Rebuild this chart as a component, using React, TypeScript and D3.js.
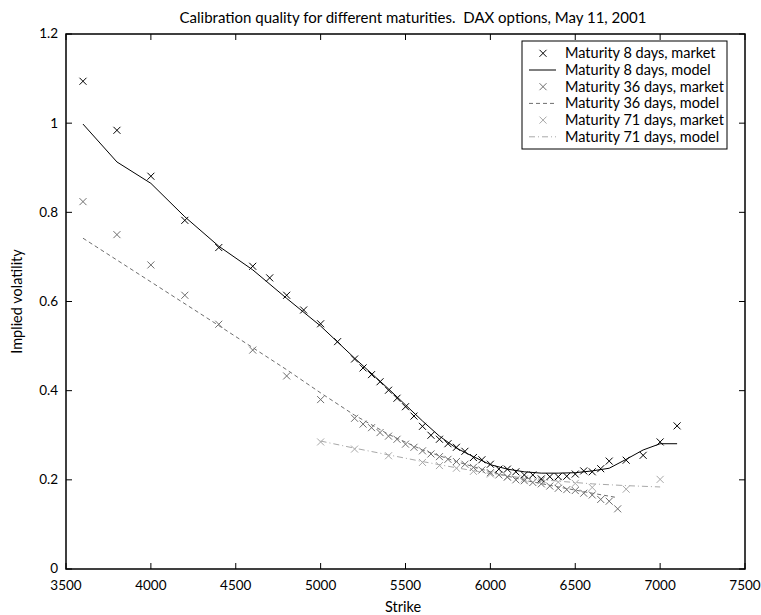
import React from "react";
import * as d3 from "d3";

const xTicks = [3500, 4000, 4500, 5000, 5500, 6000, 6500, 7000, 7500];
const yTicks = [0, 0.2, 0.4, 0.6, 0.8, 1, 1.2];

const m8Strikes = [3600,3800,4000,4200,4400,4600,4700,4800,4900,5000,5100,5200,5250,5300,5350,5400,5450,5500,5550,5600,5650,5700,5750,5800,5850,5900,5950,6000,6050,6100,6150,6200,6250,6300,6350,6400,6450,6500,6550,6600,6650,6700,6800,6900,7000,7100];
const m8Market = [1.094,0.984,0.881,0.782,0.721,0.679,0.653,0.614,0.581,0.550,0.510,0.471,0.451,0.436,0.420,0.401,0.383,0.364,0.343,0.320,0.300,0.291,0.281,0.273,0.264,0.250,0.245,0.235,0.224,0.224,0.218,0.211,0.211,0.202,0.207,0.207,0.208,0.213,0.220,0.218,0.225,0.242,0.244,0.255,0.285,0.321];

const m8ModelStrikes = [3600,3800,4000,4200,4400,4600,4800,5000,5200,5400,5500,5600,5700,5800,5900,6000,6100,6200,6300,6400,6500,6600,6700,6800,6900,7000,7100];
const m8Model = [0.998,0.913,0.865,0.790,0.724,0.671,0.607,0.545,0.473,0.404,0.368,0.332,0.298,0.271,0.252,0.234,0.224,0.218,0.215,0.215,0.216,0.220,0.226,0.246,0.267,0.281,0.281];

const m36Strikes = [3600,3800,4000,4200,4400,4600,4800,5000,5200,5250,5300,5350,5400,5450,5500,5550,5600,5650,5700,5750,5800,5850,5900,5950,6000,6050,6100,6150,6200,6250,6300,6350,6400,6450,6500,6550,6600,6650,6700,6750];
const m36Market = [0.824,0.750,0.682,0.614,0.549,0.491,0.433,0.380,0.338,0.325,0.317,0.306,0.298,0.291,0.280,0.273,0.265,0.258,0.252,0.246,0.241,0.235,0.228,0.222,0.216,0.211,0.206,0.200,0.198,0.194,0.191,0.186,0.181,0.178,0.176,0.170,0.166,0.156,0.152,0.135];

const m36ModelStrikes = [3600,4000,4400,4800,5000,5200,5400,5600,5800,6000,6200,6400,6600,6750];
const m36Model = [0.742,0.644,0.546,0.447,0.395,0.345,0.302,0.267,0.241,0.218,0.199,0.184,0.170,0.160];

const m71Strikes = [5000,5200,5400,5600,5700,5800,5900,6000,6100,6200,6300,6400,6500,6600,6800,7000];
const m71Market = [0.285,0.269,0.254,0.239,0.232,0.226,0.219,0.213,0.207,0.202,0.198,0.195,0.192,0.183,0.179,0.201];

const m71ModelStrikes = [5000,5200,5400,5600,5800,6000,6200,6400,6600,6800,7000];
const m71Model = [0.287,0.271,0.256,0.241,0.227,0.214,0.204,0.197,0.191,0.187,0.184];

const legendLabels = [
  "Maturity 8 days, market",
  "Maturity 8 days, model",
  "Maturity 36 days, market",
  "Maturity 36 days, model",
  "Maturity 71 days, market",
  "Maturity 71 days, model",
];

const C8 = "#000000";
const C36 = "#6e6e6e";
const C71 = "#a8a8a8";
const FONT = "Lato, 'Open Sans', sans-serif";

export default function App() {
  const W = 761, H = 615;
  const left = 66, right = 745, top = 34, bottom = 569;
  const x = d3.scaleLinear().domain([3500, 7500]).range([left, right]);
  const y = d3.scaleLinear().domain([0, 1.2]).range([bottom, top]);
  const line = d3.line<[number, number]>().x(d => x(d[0])).y(d => y(d[1]));
  const zip = (a: number[], b: number[]) => a.map((v, i) => [v, b[i]] as [number, number]);
  const cross = "M-3.5,-3.5L3.5,3.5M-3.5,3.5L3.5,-3.5";
  const tickLen = 6;

  const markers = (xs: number[], ys: number[], color: string, key: string) =>
    xs.map((s, i) => (
      <path key={key + i} d={cross} transform={`translate(${x(s)},${y(ys[i])})`} stroke={color} strokeWidth={1} fill="none" />
    ));

  const legX = 522, legY = 41, legW = 205, legH = 108;
  const rowY = (i: number) => 53.3 + i * 16.7;

  return (
    <svg width={W} height={H} style={{ position: "absolute", left: 0, top: 0, background: "#fff" }} fontFamily={FONT}>
      <rect x={0} y={0} width={W} height={H} fill="#fff" />
      {/* title */}
      <text x={413} y={23} textAnchor="middle" fontSize={15}>
        Calibration quality for different maturities.{"\u00a0\u00a0"}DAX options, May 11, 2001
      </text>
      {/* ticks */}
      {xTicks.map(t => (
        <g key={"xt" + t}>
          <line x1={x(t)} x2={x(t)} y1={bottom} y2={bottom - tickLen} stroke="#000" strokeWidth={1} />
          <line x1={x(t)} x2={x(t)} y1={top} y2={top + tickLen} stroke="#000" strokeWidth={1} />
          <text x={x(t)} y={590} textAnchor="middle" fontSize={13.5}>{t}</text>
        </g>
      ))}
      {yTicks.map(t => (
        <g key={"yt" + t}>
          <line x1={left} x2={left + tickLen} y1={y(t)} y2={y(t)} stroke="#000" strokeWidth={1} />
          <line x1={right} x2={right - tickLen} y1={y(t)} y2={y(t)} stroke="#000" strokeWidth={1} />
          <text x={58} y={y(t)} dy="0.33em" textAnchor="end" fontSize={13.5}>{d3.format("~g")(t)}</text>
        </g>
      ))}
      {/* axis labels */}
      <text x={403} y={612} textAnchor="middle" fontSize={14.5}>Strike</text>
      <text transform={`translate(22,${(top + bottom) / 2}) rotate(-90)`} textAnchor="middle" fontSize={14.5}>Implied volatility</text>

      {/* data */}
      <path d={line(zip(m8ModelStrikes, m8Model)) || ""} stroke={C8} strokeWidth={1} fill="none" />
      <path d={line(zip(m36ModelStrikes, m36Model)) || ""} stroke={C36} strokeWidth={1} fill="none" strokeDasharray="4,3" />
      <path d={line(zip(m71ModelStrikes, m71Model)) || ""} stroke={C71} strokeWidth={1} fill="none" strokeDasharray="6,3,1,3" />
      {markers(m71Strikes, m71Market, C71, "m71")}
      {markers(m36Strikes, m36Market, C36, "m36")}
      {markers(m8Strikes, m8Market, C8, "m8")}

      {/* frame */}
      <rect x={left} y={top} width={right - left} height={bottom - top} fill="none" stroke="#000" strokeWidth={1.5} />

      {/* legend */}
      <rect x={legX} y={legY} width={legW} height={legH} fill="#fff" stroke="#000" strokeWidth={1} />
      {legendLabels.map((lab, i) => (
        <text key={lab} x={565} y={rowY(i)} dy="0.35em" fontSize={14.5}>{lab}</text>
      ))}
      <path d={cross} transform={`translate(543,${rowY(0)})`} stroke={C8} strokeWidth={1} fill="none" />
      <line x1={529} x2={556} y1={rowY(1)} y2={rowY(1)} stroke={C8} strokeWidth={1} />
      <path d={cross} transform={`translate(543,${rowY(2)})`} stroke={C36} strokeWidth={1} fill="none" />
      <line x1={529} x2={556} y1={rowY(3)} y2={rowY(3)} stroke={C36} strokeWidth={1} strokeDasharray="4,3" />
      <path d={cross} transform={`translate(543,${rowY(4)})`} stroke={C71} strokeWidth={1} fill="none" />
      <line x1={529} x2={556} y1={rowY(5)} y2={rowY(5)} stroke={C71} strokeWidth={1} strokeDasharray="6,3,1,3" />
    </svg>
  );
}
